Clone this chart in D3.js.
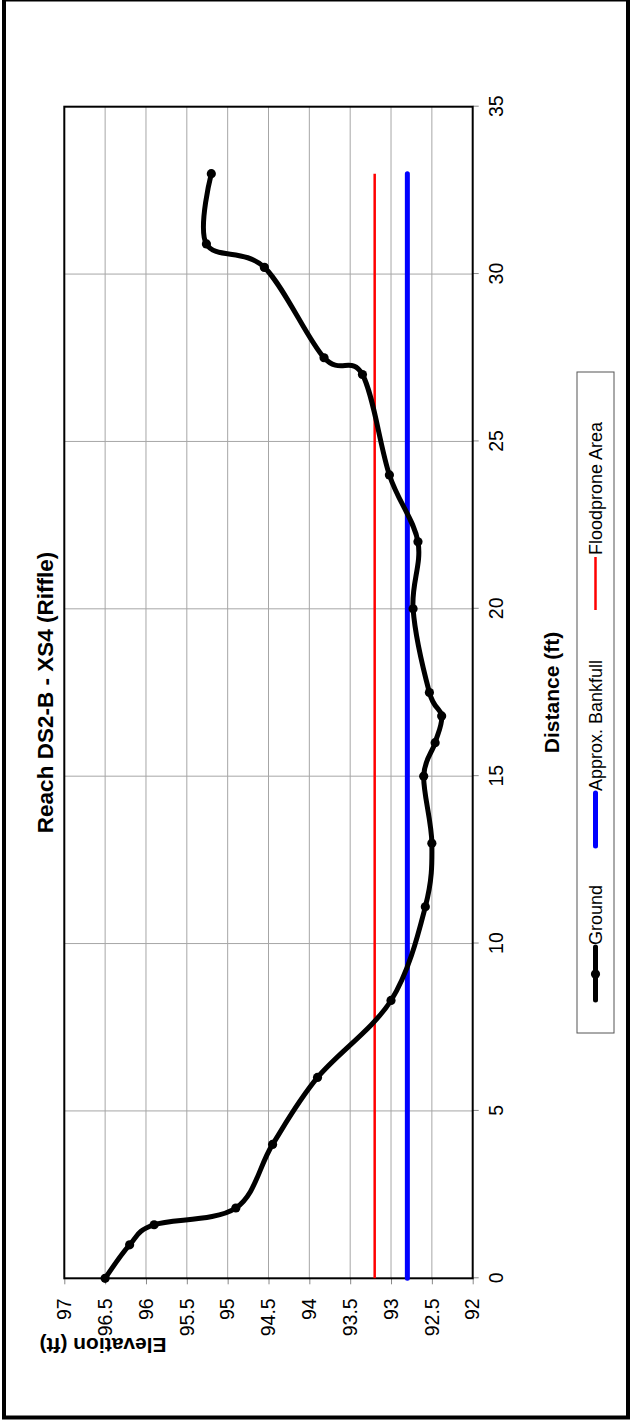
<!DOCTYPE html>
<html>
<head>
<meta charset="utf-8">
<script src="https://cdn.jsdelivr.net/npm/d3@7"></script>
<style>
  html, body { margin: 0; padding: 0; background: #fff; }
  svg { display: block; font-family: "Liberation Sans", Arial, sans-serif; }
</style>
</head>
<body>
<svg id="chart" width="630" height="1422"></svg>
<script>
// ---- data ----
const distance  = [0, 1.0, 1.6, 2.1, 4.0, 6.0, 8.3, 11.1, 13.0, 15.0, 16.0, 16.8, 17.5, 20.0, 22.0, 24.0, 27.0, 27.5, 30.2, 30.9, 33.0];
const elevation = [96.5, 96.2, 95.9, 94.9, 94.45, 93.9, 93.0, 92.58, 92.5, 92.6, 92.46, 92.38, 92.53, 92.73, 92.67, 93.02, 93.35, 93.82, 94.55, 95.26, 95.2];
const bankfullDist = [0, 33];
const bankfullElev = [92.8, 92.8];
const floodDist = [0, 33];
const floodElev = [93.2, 93.2];
const distTicks = [0, 5, 10, 15, 20, 25, 30, 35];
const elevTicks = [92, 92.5, 93, 93.5, 94, 94.5, 95, 95.5, 96, 96.5, 97];
const seriesNames = ["Ground", "Approx. Bankfull", "Floodprone Area"];
const chartTitle = "Reach DS2-B - XS4 (Riffle)";
const xTitle = "Distance (ft)";
const yTitle = "Elevation (ft)";

// ---- layout (unrotated frame: 1422 wide x 630 tall) ----
const W = 1422;
const plot = { left: 143.7, right: 1315.3, top: 64.3, bottom: 472.7 };

const svg = d3.select("#chart");

// outer frame
svg.append("rect").attr("x", 4).attr("y", -0.5).attr("width", 624).attr("height", 1418)
  .attr("fill", "none").attr("stroke", "#000").attr("stroke-width", 4);

const g = svg.append("g").attr("transform", `translate(0,${W}) rotate(-90)`);

const x = d3.scaleLinear().domain([0, 35]).range([plot.left, plot.right]);
const y = d3.scaleLinear().domain([92, 97]).range([plot.bottom, plot.top]);

// gridlines
g.append("g").selectAll("line").data(elevTicks.filter(d => d > 92 && d < 97)).join("line")
  .attr("x1", plot.left).attr("x2", plot.right)
  .attr("y1", d => y(d)).attr("y2", d => y(d))
  .attr("stroke", "#a6a6a6").attr("stroke-width", 1);
g.append("g").selectAll("line").data(distTicks.filter(d => d > 0 && d < 35)).join("line")
  .attr("y1", plot.top).attr("y2", plot.bottom)
  .attr("x1", d => x(d)).attr("x2", d => x(d))
  .attr("stroke", "#a6a6a6").attr("stroke-width", 1);

// axes
const xAxis = d3.axisBottom(x).tickValues(distTicks).tickSize(6).tickPadding(10).tickFormat(d3.format("d"));
const yAxis = d3.axisLeft(y).tickValues(elevTicks).tickSize(6).tickPadding(14).tickFormat(d => d3.format("~g")(d));

const xa = g.append("g").attr("transform", `translate(0,${plot.bottom})`).call(xAxis);
const ya = g.append("g").attr("transform", `translate(${plot.left},0)`).call(yAxis);
[xa, ya].forEach(a => {
  a.select(".domain").remove();
  a.selectAll(".tick line").attr("stroke", "#888");
  a.selectAll(".tick text").attr("fill", "#000").style("font-size", "19.5px")
    .style("font-family", "'Liberation Sans', Arial, sans-serif");
});

// plot border
g.append("rect").attr("x", plot.left).attr("y", plot.top)
  .attr("width", plot.right - plot.left).attr("height", plot.bottom - plot.top)
  .attr("fill", "none").attr("stroke", "#000").attr("stroke-width", 2);

// series
const lineGen = d3.line().x(d => x(d[0])).y(d => y(d[1]));
g.append("path").datum(d3.zip(floodDist, floodElev)).attr("d", lineGen)
  .attr("fill", "none").attr("stroke", "#ff0000").attr("stroke-width", 2.5);
g.append("path").datum(d3.zip(bankfullDist, bankfullElev)).attr("d", lineGen)
  .attr("fill", "none").attr("stroke", "#0000ff").attr("stroke-width", 5).attr("stroke-linecap", "round");

const ground = d3.zip(distance, elevation);
g.append("path").datum(ground)
  .attr("d", d3.line().x(d => x(d[0])).y(d => y(d[1])).curve(d3.curveCardinal.tension(0)))
  .attr("fill", "none").attr("stroke", "#000").attr("stroke-width", 5).attr("stroke-linejoin", "round");
g.append("g").selectAll("circle").data(ground).join("circle")
  .attr("cx", d => x(d[0])).attr("cy", d => y(d[1])).attr("r", 4.6).attr("fill", "#000");

// titles
g.append("text").attr("x", (plot.left + plot.right) / 2).attr("y", 53)
  .attr("text-anchor", "middle").style("font-weight", "bold").style("font-size", "22.5px").text(chartTitle);
g.append("text").attr("x", (plot.left + plot.right) / 2).attr("y", 559)
  .attr("text-anchor", "middle").style("font-weight", "bold").style("font-size", "21px").text(xTitle);
g.append("text").attr("transform", `translate(84,103) rotate(-90)`)
  .attr("text-anchor", "middle").style("font-weight", "bold").style("font-size", "21px").text(yTitle);

// legend
const leg = g.append("g");
leg.append("rect").attr("x", 389).attr("y", 577).attr("width", 661).attr("height", 37)
  .attr("fill", "#fff").attr("stroke", "#555").attr("stroke-width", 1);
const legY = 595.5;
const legItems = [
  { name: seriesNames[0], x0: 422, color: "#000", w: 5, marker: true },
  { name: seriesNames[1], x0: 576, color: "#0000ff", w: 5, marker: false },
  { name: seriesNames[2], x0: 812, color: "#ff0000", w: 2.5, marker: false }
];
legItems.forEach(it => {
  leg.append("line").attr("x1", it.x0).attr("x2", it.x0 + 53).attr("y1", legY).attr("y2", legY)
    .attr("stroke", it.color).attr("stroke-width", it.w).attr("stroke-linecap", it.color === "#ff0000" ? "butt" : "round");
  if (it.marker) leg.append("circle").attr("cx", it.x0 + 26).attr("cy", legY).attr("r", 4.6).attr("fill", it.color);
  leg.append("text").attr("x", it.x0 + 55).attr("y", legY).attr("dy", "0.35em")
    .style("font-size", "18px").text(it.name);
});
</script>
</body>
</html>
